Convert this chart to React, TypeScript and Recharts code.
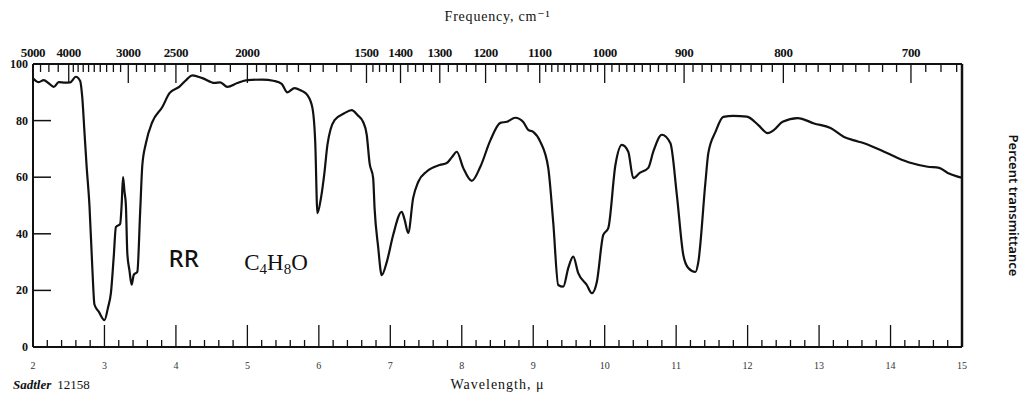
import React from "react";
import { LineChart, Line, XAxis, YAxis, Label, ReferenceDot } from "recharts";

// spectrum: wavelength (micron) / percent transmittance
const wavelength = [
  2.0, 2.08, 2.15, 2.22, 2.29, 2.36, 2.45, 2.52, 2.6, 2.66, 2.69, 2.72, 2.75, 2.79, 2.83, 2.86, 2.92, 3.0, 3.05, 3.09,
  3.13, 3.16, 3.22, 3.24, 3.26, 3.28, 3.3, 3.32, 3.35, 3.38, 3.41, 3.46, 3.5, 3.53, 3.58, 3.67, 3.81, 3.91, 4.05, 4.15,
  4.23, 4.37, 4.54, 4.62, 4.72, 4.86, 5.0, 5.2, 5.38, 5.48, 5.56, 5.66, 5.76, 5.84, 5.91, 5.95, 5.98, 6.03, 6.08, 6.12,
  6.22, 6.35, 6.46, 6.54, 6.62, 6.67, 6.71, 6.76, 6.78, 6.83, 6.88, 6.95, 7.04, 7.16, 7.2, 7.25, 7.32, 7.39, 7.51, 7.69,
  7.79, 7.86, 7.93, 8.02, 8.14, 8.26, 8.4, 8.54, 8.63, 8.75, 8.86, 8.93, 9.0, 9.1, 9.21, 9.28, 9.35, 9.42, 9.49, 9.56,
  9.63, 9.75, 9.82, 9.89, 9.98, 10.05, 10.15, 10.24, 10.33, 10.4, 10.49, 10.61, 10.68, 10.8, 10.92, 11.01, 11.1, 11.17,
  11.27, 11.31, 11.41, 11.45, 11.55, 11.66, 11.8, 11.99, 12.15, 12.28, 12.37, 12.49, 12.7, 12.93, 13.16, 13.35, 13.49,
  13.63, 13.91, 14.1, 14.29, 14.52, 14.68, 14.8, 14.94, 15.0,
];
const transmittance = [
  95, 93.6, 94.3, 93.2, 91.9, 93.6, 93.4, 93.5, 95.5, 94, 88, 76, 64, 50, 28, 15, 12.5, 9.5, 14, 19,
  32, 42.4, 43.5, 50, 60, 55, 50, 33, 27, 22, 25.5, 26.6, 48, 64.3, 72, 79.5, 84.8, 89.7, 92, 94.5,
  96, 95, 93.3, 93.5, 91.9, 93.3, 94.3, 94.5, 94, 93, 90, 91.5, 90.5, 89, 84.5, 72, 47.3, 52.7, 62, 71.4,
  80.2, 82.5, 83.7, 82, 79.5, 75, 65, 59.7, 49, 35.3, 25.4, 30, 39.6, 47.8, 45, 40.3, 52.7, 58.3, 62, 64.3,
  65, 67, 69, 63.3, 58.7, 63.7, 73, 79.2, 79.6, 81, 79.5, 76.7, 76, 72.5, 63.3, 44, 21.9, 21.3, 27.9, 31.9,
  26.1, 21.9, 19, 23, 39.6, 42, 64.3, 71.4, 69, 59.7, 61.5, 63.3, 69, 75, 72, 53.7, 32.5, 27.9,
  26.5, 30, 58.3, 68.5, 76, 81.3, 81.7, 81.4, 78.4, 75.6, 76.7, 79.6, 80.9, 79, 77.4, 74.2, 73,
  72, 69, 66.8, 65, 63.7, 63.3, 61.5, 60.2, 59.8,
];

const wavelengthLabels = [2, 3, 4, 5, 6, 7, 8, 9, 10, 11, 12, 13, 14, 15];
const frequencyLabels = [5000, 4000, 3000, 2500, 2000, 1500, 1400, 1300, 1200, 1100, 1000, 900, 800, 700];
const percentTicks = [0, 20, 40, 60, 80, 100];

const data = wavelength.map((w, i) => ({ w, t: transmittance[i] }));

// small ticks every 0.2 micron on the bottom ruler
const wavelengthTicks: number[] = [];
for (let i = 0; i <= 65; i++) wavelengthTicks.push(2 + i * 0.2);

// the frequency ruler changes step as it goes: [from, to, step]
const freqRuns = [
  [5000, 4000, 250],
  [4000, 2000, 100],
  [2000, 1500, 50],
  [1500, 1100, 20],
  [1100, 670, 10],
];
const freqTicks: number[] = [];
freqRuns.forEach(([a, b, s]) => {
  for (let f = a; f > b; f -= s) freqTicks.push(f);
});
freqTicks.push(670);
const freqTickPositions = freqTicks.map((f) => 10000 / f);

const ink = "#111";
const serif = "'Liberation Serif', 'DejaVu Serif', serif";

const BottomTick = (props: any) => {
  const { x, y, payload } = props;
  const v = Math.round(payload.value * 10) / 10;
  const major = wavelengthLabels.includes(v);
  return (
    <g>
      <line x1={x} x2={x} y1={y} y2={y - (major ? 22 : 7)} stroke={ink} strokeWidth={1.3} />
      {major && (
        <text x={x} y={y + 22} textAnchor="middle" fontSize={10} fontFamily={serif} fill="#333">
          {v}
        </text>
      )}
    </g>
  );
};

const TopTick = (props: any) => {
  const { x, y, payload } = props;
  const f = Math.round(10000 / payload.value);
  const major = frequencyLabels.includes(f);
  return (
    <g>
      <line x1={x} x2={x} y1={y} y2={y + (major ? 19 : 8)} stroke={ink} strokeWidth={1.3} />
      {major && (
        <text
          x={x}
          y={y - 7}
          textAnchor="middle"
          fontSize={13}
          fontWeight="bold"
          letterSpacing={-0.4}
          fontFamily={serif}
          fill={ink}
        >
          {f}
        </text>
      )}
    </g>
  );
};

const LeftTick = (props: any) => {
  const { x, y, payload } = props;
  return (
    <g>
      <line x1={x} x2={x + 18} y1={y} y2={y} stroke={ink} strokeWidth={1.5} />
      <text x={x - 5} y={y + 4} textAnchor="end" fontSize={12} fontWeight="bold" fontFamily={serif} fill={ink}>
        {payload.value}
      </text>
    </g>
  );
};

const RightTick = (props: any) => {
  const { x, y, payload } = props;
  return (
    <g>
      <line x1={x - 12} x2={x} y1={y} y2={y} stroke={ink} strokeWidth={1.3} />
      <text x={x + 7} y={y + 4} textAnchor="start" fontSize={12} fontWeight="bold" fontFamily={serif} fill={ink}>
        {payload.value}
      </text>
    </g>
  );
};

const Formula = ({ viewBox }: any) => (
  <text
    x={viewBox.x + viewBox.width / 2}
    y={viewBox.y + viewBox.height / 2 + 8}
    textAnchor="middle"
    fontSize={23}
    fontFamily={serif}
    fill={ink}
  >
    C
    <tspan dy={4} fontSize={15}>4</tspan>
    <tspan dy={-4}>H</tspan>
    <tspan dy={4} fontSize={15}>8</tspan>
    <tspan dy={-4}>O</tspan>
  </text>
);

const Code = ({ viewBox }: any) => (
  <text
    x={viewBox.x + viewBox.width / 2}
    y={viewBox.y + viewBox.height / 2 + 9}
    textAnchor="middle"
    fontSize={24}
    fontWeight={500}
    fontFamily="'Noto Sans', 'DejaVu Sans', sans-serif"
    fill={ink}
  >
    RR
  </text>
);

const Sadtler = ({ viewBox }: any) => (
  <text x={viewBox.x - 20} y={viewBox.y + 42} fontSize={13} fontFamily={serif} fill={ink}>
    <tspan fontStyle="italic" fontWeight="bold">Sadtler</tspan>
    <tspan dx={6}>12158</tspan>
  </text>
);

const YTitle = ({ viewBox }: any) => {
  const cx = viewBox.x + 52;
  const cy = viewBox.y + viewBox.height / 2;
  return (
    <text
      x={cx}
      y={cy}
      transform={`rotate(90, ${cx}, ${cy})`}
      textAnchor="middle"
      dominantBaseline="central"
      fontSize={13}
      fontWeight={600}
      fontFamily="'Noto Sans', sans-serif"
      fill={ink}
    >
      Percent transmittance
    </text>
  );
};

const App = () => {
  return (
    <div style={{ position: "absolute", left: 0, top: 0, background: "#fff" }}>
      <LineChart width={1027} height={394} data={data} margin={{ top: 0, right: 0, bottom: 0, left: 0 }}>
        <XAxis
          xAxisId="top"
          orientation="top"
          type="number"
          dataKey="w"
          domain={[2, 15]}
          ticks={freqTickPositions}
          interval={0}
          height={64}
          tickSize={0}
          tickMargin={0}
          tickLine={false}
          tick={TopTick}
          axisLine={{ stroke: ink, strokeWidth: 2 }}
        >
          <Label
            value="Frequency, cm⁻¹"
            position="insideTop"
            offset={11}
            style={{ fontSize: 14, fontFamily: serif, fill: ink, letterSpacing: 0.8 }}
          />
        </XAxis>
        <XAxis
          xAxisId="bottom"
          orientation="bottom"
          type="number"
          dataKey="w"
          domain={[2, 15]}
          ticks={wavelengthTicks}
          interval={0}
          height={47}
          tickSize={0}
          tickMargin={0}
          tickLine={false}
          tick={BottomTick}
          axisLine={{ stroke: ink, strokeWidth: 2 }}
        >
          <Label
            value="Wavelength, μ"
            position="insideBottom"
            offset={5}
            style={{ fontSize: 14, fontFamily: serif, fill: ink, letterSpacing: 1 }}
          />
          <Label content={Sadtler} />
        </XAxis>
        <YAxis
          yAxisId="left"
          orientation="left"
          type="number"
          domain={[0, 100]}
          ticks={percentTicks}
          interval={0}
          width={33}
          tickSize={0}
          tickMargin={0}
          tickLine={false}
          tick={LeftTick}
          axisLine={{ stroke: ink, strokeWidth: 2 }}
        />
        <YAxis
          yAxisId="right"
          orientation="right"
          type="number"
          domain={[0, 100]}
          ticks={percentTicks}
          interval={0}
          width={65}
          tickSize={0}
          tickMargin={0}
          tickLine={false}
          tick={RightTick}
          axisLine={{ stroke: ink, strokeWidth: 2.5 }}
        >
          <Label content={YTitle} />
        </YAxis>
        <Line
          xAxisId="bottom"
          yAxisId="left"
          dataKey="t"
          type="monotone"
          stroke={ink}
          strokeWidth={2.2}
          dot={false}
          isAnimationActive={false}
        />
        <ReferenceDot xAxisId="bottom" yAxisId="left" x={4.11} y={31.4} r={1} fill="none" stroke="none" label={Code} />
        <ReferenceDot xAxisId="bottom" yAxisId="left" x={5.4} y={30} r={1} fill="none" stroke="none" label={Formula} />
      </LineChart>
    </div>
  );
};

export default App;
